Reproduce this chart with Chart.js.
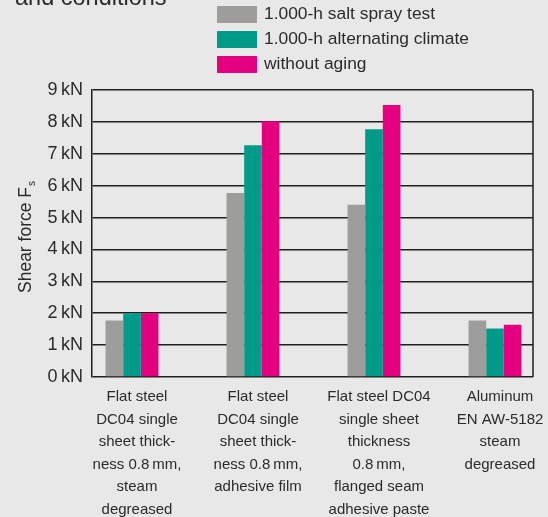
<!DOCTYPE html>
<html>
<head>
<meta charset="utf-8">
<script src="https://cdn.jsdelivr.net/npm/chart.js@4"></script>
<style>
  body { margin: 0; background: #e8e8e8; }
  #wrap { width: 548px; height: 517px; }
</style>
</head>
<body>
<div id="wrap"><canvas id="chart" width="548" height="517"></canvas></div>
<script>
const categories = [
  ["Flat steel", "DC04 single", "sheet thick-", "ness 0.8\u2009mm,", "steam", "degreased"],
  ["Flat steel", "DC04 single", "sheet thick-", "ness 0.8\u2009mm,", "adhesive film"],
  ["Flat steel DC04", "single sheet", "thickness", "0.8\u2009mm,", "flanged seam", "adhesive paste"],
  ["Aluminum", "EN AW-5182", "steam", "degreased"]
];
const saltSpray = [1.77, 5.77, 5.40, 1.77];
const altClimate = [2.00, 7.27, 7.77, 1.52];
const noAging = [2.00, 8.02, 8.53, 1.64];
const seriesNames = ["1.000-h salt spray test", "1.000-h alternating climate", "without aging"];
const seriesColors = ["#9d9d9c", "#009a88", "#e4007e"];
const yTicks = [0, 1, 2, 3, 4, 5, 6, 7, 8, 9];

const FONT = "'Liberation Sans', Arial, sans-serif";
const TEXT = "#2b2b2b";
const LINE = "#1e1e1e";

const toPoints = arr => arr.map((v, i) => ({ x: i, y: v }));

const frame = {
  id: "frame",
  beforeDatasetsDraw(chart) {
    const { ctx, chartArea: a } = chart;
    ctx.save();
    ctx.strokeStyle = LINE;
    ctx.lineWidth = 1.5;
    ctx.beginPath();
    ctx.moveTo(a.right, a.top);
    ctx.lineTo(a.right, a.bottom);
    ctx.stroke();
    ctx.restore();
  },
  afterDraw(chart) {
    const ctx = chart.ctx;
    ctx.save();
    ctx.fillStyle = TEXT;
    // cut-off title line
    ctx.font = "23.5px " + FONT;
    ctx.textBaseline = "alphabetic";
    ctx.fillText("and conditions", 15, 5);

    // legend
    ctx.font = "17.4px " + FONT;
    ctx.textBaseline = "middle";
    seriesNames.forEach((name, i) => {
      const y = 6 + i * 25;
      ctx.fillStyle = seriesColors[i];
      ctx.fillRect(217, y, 40, 17);
      ctx.fillStyle = TEXT;
      ctx.fillText(name, 264, y + 8.5);
    });

    // y axis title with subscript
    ctx.translate(26, 237);
    ctx.rotate(-Math.PI / 2);
    ctx.font = "17.5px " + FONT;
    ctx.textBaseline = "middle";
    const main = "Shear force F";
    const w = ctx.measureText(main).width;
    ctx.fillText(main, -w / 2 - 3, 0);
    ctx.font = "10px " + FONT;
    ctx.fillText("s", w / 2 - 2, 6);
    ctx.restore();
  }
};

new Chart(document.getElementById("chart"), {
  type: "bar",
  data: {
    datasets: [
      { label: seriesNames[0], data: toPoints(saltSpray), backgroundColor: seriesColors[0] },
      { label: seriesNames[1], data: toPoints(altClimate), backgroundColor: seriesColors[1] },
      { label: seriesNames[2], data: toPoints(noAging), backgroundColor: seriesColors[2] }
    ]
  },
  options: {
    responsive: false,
    animation: false,
    devicePixelRatio: 1,
    layout: { padding: { top: 90, right: 15, left: 0, bottom: 0 } },
    categoryPercentage: 0.437,
    barPercentage: 1,
    plugins: { legend: { display: false }, tooltip: { enabled: false } },
    scales: {
      x: {
        type: "linear",
        offset: false,
        min: -0.3306,
        max: 3.314,
        grid: { display: false, offset: false },
        border: { display: false },
        afterFit(scale) { scale.height = 140; },
        afterBuildTicks(scale) { scale.ticks = categories.map((c, i) => ({ value: i })); },
        ticks: {
          includeBounds: false,
          autoSkip: false,
          maxRotation: 0,
          padding: 1,
          labelOffset: 5,
          color: TEXT,
          font: { family: FONT, size: 15, lineHeight: 1.5 },
          callback: v => categories[v]
        }
      },
      y: {
        min: 0,
        max: 9,
        afterFit(scale) { scale.width = 92; },
        afterBuildTicks(scale) { scale.ticks = yTicks.map(v => ({ value: v })); },
        grid: { color: LINE, lineWidth: 1.5, drawTicks: false },
        border: { display: true, color: LINE, width: 1.5 },
        ticks: {
          padding: 9,
          color: TEXT,
          font: { family: FONT, size: 18 },
          callback: v => v + "\u2009kN"
        }
      }
    }
  },
  plugins: [frame]
});
</script>
</body>
</html>
